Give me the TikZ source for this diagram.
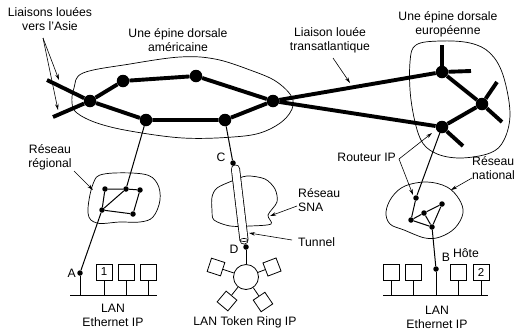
\documentclass[tikz,border=0pt]{standalone}
\usepackage{fontspec}
\setmainfont{Liberation Sans}
\usetikzlibrary{arrows.meta}
\begin{document}
\begin{tikzpicture}[x=1pt,y=-1pt,
  lbl/.style={font=\fontsize{12.2}{14}\selectfont, align=center, inner sep=0pt},
  lbll/.style={font=\fontsize{12.2}{14}\selectfont, align=left, inner sep=0pt},
  bb/.style={line width=3.9pt},
  bigdot/.style={circle, fill=black, minimum size=12.5pt, inner sep=0pt},
  dot/.style={circle, fill=black, minimum size=5.5pt, inner sep=0pt},
  thinl/.style={line width=1pt},
  cloudl/.style={line width=0.7pt},
  arr/.style={line width=0.6pt, -{Stealth[length=6pt,width=3.5pt]}},
  host/.style={draw, line width=0.8pt, minimum size=16pt, inner sep=0pt, fill=white, font=\fontsize{11.5}{13}\selectfont},
  station/.style={draw, line width=0.8pt, minimum size=14pt, inner sep=0pt, fill=white},
]
\useasboundingbox (0,0) rectangle (514,333);

% ---------- clouds ----------
\draw[cloudl] plot[smooth cycle, tension=0.6] coordinates {(72,103) (74,88) (83,73) (130,64) (180,57) (215,59) (250,70) (277,82) (293,100) (286,118) (263,132) (233,137) (183,138) (130,131) (97,123) (77,113)};
\draw[cloudl] plot[smooth cycle, tension=0.6] coordinates {(410,62) (416,45) (440,41) (470,43) (490,53) (503,75) (510,113) (504,140) (490,153) (460,158) (435,153) (420,138) (411,100)};
\draw[cloudl] plot[smooth cycle, tension=0.6] coordinates {(88,213) (93,184) (104,174) (143,174) (157,183) (160,200) (153,217) (140,222) (120,222) (97,223)};
\draw[cloudl] plot[smooth cycle, tension=0.5] coordinates {(212,197) (217,188) (232,181) (247,176) (265,179) (275,189) (277,202) (268,215) (271,224) (250,226) (230,226) (214,220) (212,210)};
\draw[cloudl] plot[smooth cycle, tension=0.6] coordinates {(386,212) (392,197) (405,186) (427,182) (447,187) (459,199) (463,213) (455,228) (440,237) (425,238) (404,230) (390,224)};

% ---------- backbone nodes ----------
\node[bigdot] (N1) at (90,101) {};
\node[bigdot] (N2) at (123,81) {};
\node[bigdot] (N3) at (146,120) {};
\node[bigdot] (N4) at (196,76) {};
\node[bigdot] (N5) at (225,120) {};
\node[bigdot] (N6) at (273,101) {};
\node[bigdot] (E1) at (442,72) {};
\node[bigdot] (E2) at (482,104) {};
\node[bigdot] (E3) at (442,127) {};
\coordinate (as1) at (47,80);
\coordinate (as2) at (53,117);
\coordinate (e1u) at (442,45);
\coordinate (e1r) at (471,71);
\coordinate (e2u) at (497,82);
\coordinate (e2d) at (502,122);
\coordinate (e3d) at (463,146);

\draw[bb] (as1) -- (N1) -- (N3) -- (N5) -- (N6);
\draw[bb] (as2) -- (N1) -- (N2) -- (N4) -- (N6);
\draw[bb] (N6) -- (E1);
\draw[bb] (N6) -- (E3);
\draw[bb] (E1) -- (E2) -- (E3);
\draw[bb] (E1) -- (e1u);
\draw[bb] (E1) -- (e1r);
\draw[bb] (E2) -- (e2u);
\draw[bb] (E2) -- (e2d);
\draw[bb] (E3) -- (e3d);

% ---------- regional network ----------
\node[dot] (Ra) at (105,189) {};
\node[dot] (Rb) at (126,189) {};
\node[dot] (Rc) at (140,190) {};
\node[dot] (Rd) at (102,210) {};
\node[dot] (Re) at (133,214) {};
\draw[thinl] (Ra) -- (Rb) -- (Rc) -- (Re) -- (Rd) -- (Ra);
\draw[thinl] (Rd) -- (Rb);
\draw[thinl] (N3) -- (Rb);

% ---------- left LAN ----------
\node[dot] (A) at (80,273) {};
\coordinate (busLa) at (70,295);
\coordinate (busLb) at (157,295);
\draw[thinl] (Rd) -- (A);
\draw[line width=0.8pt] (busLa) -- (busLb);
\draw[line width=0.8pt] (A) -- (A |- busLa);
\node[host] (h1) at (104,272) {1};
\node[host] (h2) at (126,272) {};
\node[host] (h3) at (148,272) {};
\foreach \h in {h1,h2,h3} \draw[line width=0.8pt] (\h.south) -- (\h.south |- busLa);
\node[lbl, anchor=east] (lA) at (76,273) {A};
\node[lbl] (lanL) at (113,315) {LAN\\Ethernet IP};

% ---------- tunnel / SNA ----------
\node[dot] (C) at (233,163) {};
\node[dot] (D) at (246,247) {};
\coordinate (ttop) at (235.5,169);
\coordinate (tbot) at (244,240);
\draw[thinl] (N5) -- (C);
\draw[thinl] (C) -- (ttop);
\draw[thinl] (tbot) -- (D);
\draw[line width=9pt, line cap=round] (ttop) -- (tbot);
\draw[white, line width=7.4pt, line cap=round] (ttop) -- (tbot);
\draw[line width=0.6pt] (tbot) ellipse [x radius=3.7, y radius=1.6];
\node[lbl] (lC) at (221,157) {C};
\node[lbl] (lD) at (234,249) {D};

% ---------- token ring ----------
\node[circle, draw, line width=0.8pt, minimum size=25pt, inner sep=0pt] (ring) at (246,277) {};
\draw[line width=0.8pt] (D) -- (ring);
\node[station, rotate=-18] (s1) at (216,267) {};
\node[station, rotate=21] (s2) at (272,267) {};
\node[station, rotate=-40] (s3) at (227,301) {};
\node[station, rotate=34] (s4) at (263,302) {};
\foreach \s in {s1,s2,s3,s4} \draw[line width=0.8pt] (ring) -- (\s);
\node[lbl] (lTR) at (245,322) {LAN Token Ring IP};

% ---------- national network ----------
\node[dot] (Na) at (416,198) {};
\node[dot] (Nb) at (442,204) {};
\node[dot] (Nc) at (424,213) {};
\node[dot] (Nd) at (411,220) {};
\node[dot] (Ne) at (432,227) {};
\draw[thinl] (E3) -- (Na);
\draw[thinl] (Na) -- (Nd) -- (Nc) -- (Nb) -- (Ne) -- (Nd);
\draw[thinl] (Nc) -- (Ne);

% ---------- right LAN ----------
\node[dot] (B) at (436,269) {};
\coordinate (busRa) at (383,295);
\coordinate (busRb) at (488,295);
\draw[thinl] (Ne) -- (B);
\draw[line width=0.8pt] (B) -- (B |- busRa);
\draw[line width=0.8pt] (busRa) -- (busRb);
\node[host] (g1) at (391,272) {};
\node[host] (g2) at (413,272) {};
\node[host] (g3) at (458,272) {};
\node[host] (g4) at (481,272) {2};
\foreach \h in {g1,g2,g3,g4} \draw[line width=0.8pt] (\h.south) -- (\h.south |- busRa);
\node[lbl] (lB) at (446,257) {B};
\node[lbl] (lHote) at (466,253) {Hôte};
\node[lbl] (lanR) at (437,317) {LAN\\Ethernet IP};

% ---------- labels and pointer arrows ----------
\node[lbl] (tAsie) at (50,19) {Liaisons louées\\vers l'Asie};
\coordinate (pAs) at (43,38);
\coordinate (pAs1) at (59,80);
\coordinate (pAs2) at (58,110);
\draw[arr] (pAs) -- (pAs1);
\draw[arr] (pAs) -- (pAs2);

\node[lbl] (tAm) at (178,40) {Une épine dorsale\\américaine};
\node[lbl] (tTr) at (330,40) {Liaison louée\\transatlantique};
\coordinate (pTr) at (333,58);
\coordinate (pTr1) at (350,83);
\draw[arr] (pTr) -- (pTr1);

\node[lbl] (tEu) at (448,24) {Une épine dorsale\\européenne};

\node[lbl] (tReg) at (50,157) {Réseau\\régional};
\coordinate (pReg) at (74,171);
\coordinate (pReg1) at (93,190);
\draw[arr] (pReg) -- (pReg1);

\node[lbll, anchor=west] (tSNA) at (298,200) {Réseau\\SNA};
\coordinate (pSNA) at (297,206);
\coordinate (pSNA1) at (270,216);
\draw[arr] (pSNA) -- (pSNA1);

\node[lbl, anchor=west] (tTun) at (298,242) {Tunnel};
\coordinate (pTun) at (292,240);
\coordinate (pTun1) at (249,233);
\draw[arr] (pTun) -- (pTun1);

\node[lbl, anchor=east] (tRout) at (396,157) {Routeur IP};
\coordinate (pRo) at (399,159);
\coordinate (pRo1) at (432,133);
\coordinate (pRo2) at (413,195);
\draw[arr] (pRo) -- (pRo1);
\draw[arr] (pRo) -- (pRo2);

\node[lbll, anchor=west] (tNat) at (472,168) {Réseau\\national};
\coordinate (pNat) at (472,178);
\coordinate (pNat1) at (451,190);
\draw[arr] (pNat) -- (pNat1);
\end{tikzpicture}
\end{document}
